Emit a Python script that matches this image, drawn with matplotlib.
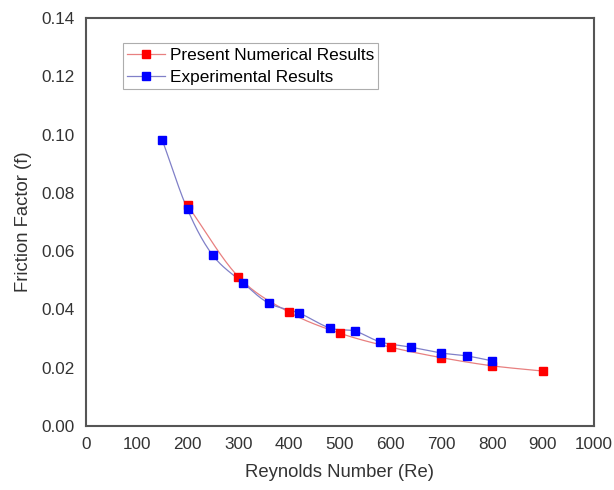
import matplotlib
matplotlib.use("Agg")
import matplotlib.pyplot as plt
import numpy as np

plt.rcParams['font.family'] = ['Liberation Sans', 'DejaVu Sans']

# Present numerical results
re_num = [200, 300, 400, 500, 600, 700, 800, 900]
f_num = [0.0757, 0.0512, 0.0390, 0.0318, 0.0270, 0.0234, 0.0206, 0.0188]

# Experimental results
re_exp = [150, 200, 250, 310, 360, 420, 480, 530, 580, 640, 700, 750, 800]
f_exp = [0.0983, 0.0743, 0.0585, 0.0490, 0.0421, 0.0387, 0.0336, 0.0325,
         0.0288, 0.0270, 0.0250, 0.0240, 0.0223]


def smooth(x, y, n=20):
    # Catmull-Rom style curve through the points, like a spreadsheet "smoothed line"
    x = np.asarray(x, float)
    y = np.asarray(y, float)
    px = np.concatenate([[2 * x[0] - x[1]], x, [2 * x[-1] - x[-2]]])
    py = np.concatenate([[2 * y[0] - y[1]], y, [2 * y[-1] - y[-2]]])
    xs, ys = [], []
    t = np.linspace(0, 1, n, endpoint=False)
    for i in range(1, len(px) - 2):
        for p, out in ((px, xs), (py, ys)):
            p0, p1, p2, p3 = p[i - 1], p[i], p[i + 1], p[i + 2]
            out.extend(0.5 * (2 * p1 + (-p0 + p2) * t
                              + (2 * p0 - 5 * p1 + 4 * p2 - p3) * t ** 2
                              + (-p0 + 3 * p1 - 3 * p2 + p3) * t ** 3))
    xs.append(x[-1])
    ys.append(y[-1])
    return xs, ys


fig = plt.figure(figsize=(6.14, 4.9), dpi=100)
ax = fig.add_axes([0.140, 0.131, 0.827, 0.832])

ms = 5.8
sx, sy = smooth(re_num, f_num)
ax.plot(sx, sy, color='#e88080', lw=0.9, zorder=2)
ax.plot(re_num, f_num, ls='none', marker='s', ms=ms, color='#ff0000', zorder=3)

sx, sy = smooth(re_exp, f_exp)
ax.plot(sx, sy, color='#8080c8', lw=0.9, zorder=2)
ax.plot(re_exp, f_exp, ls='none', marker='s', ms=ms, color='#0000ff', zorder=4)

# legend proxies: line with marker
h1, = ax.plot([], [], color='#e88080', lw=0.9, marker='s', ms=ms,
              mfc='#ff0000', mec='#ff0000')
h2, = ax.plot([], [], color='#8080c8', lw=0.9, marker='s', ms=ms,
              mfc='#0000ff', mec='#0000ff')
leg = ax.legend([h1, h2], ['Present Numerical Results', 'Experimental Results'],
                loc='upper left', bbox_to_anchor=(0.072, 0.938), fontsize=12.4,
                frameon=True, fancybox=False, handlelength=2.2,
                borderpad=0.25, labelspacing=0.4, handletextpad=0.3,
                borderaxespad=0)
leg.get_frame().set_edgecolor('#999999')
leg.get_frame().set_linewidth(0.8)

ax.set_xlim(0, 1000)
ax.set_ylim(0, 0.14)
ax.set_xticks(np.arange(0, 1001, 100))
ax.set_yticks(np.arange(0, 0.141, 0.02))
ax.yaxis.set_major_formatter(matplotlib.ticker.FormatStrFormatter('%.2f'))
ax.tick_params(length=0, labelsize=12.3, colors='#333333', pad=8)
for s in ax.spines.values():
    s.set_color('#555555')
    s.set_linewidth(1.5)

ax.set_xlabel('Reynolds Number (Re)', fontsize=13.3, color='#333333', labelpad=9)
ax.set_ylabel('Friction Factor (f)', fontsize=13.3, color='#333333', labelpad=7)

fig.savefig('out.png', dpi=100)
